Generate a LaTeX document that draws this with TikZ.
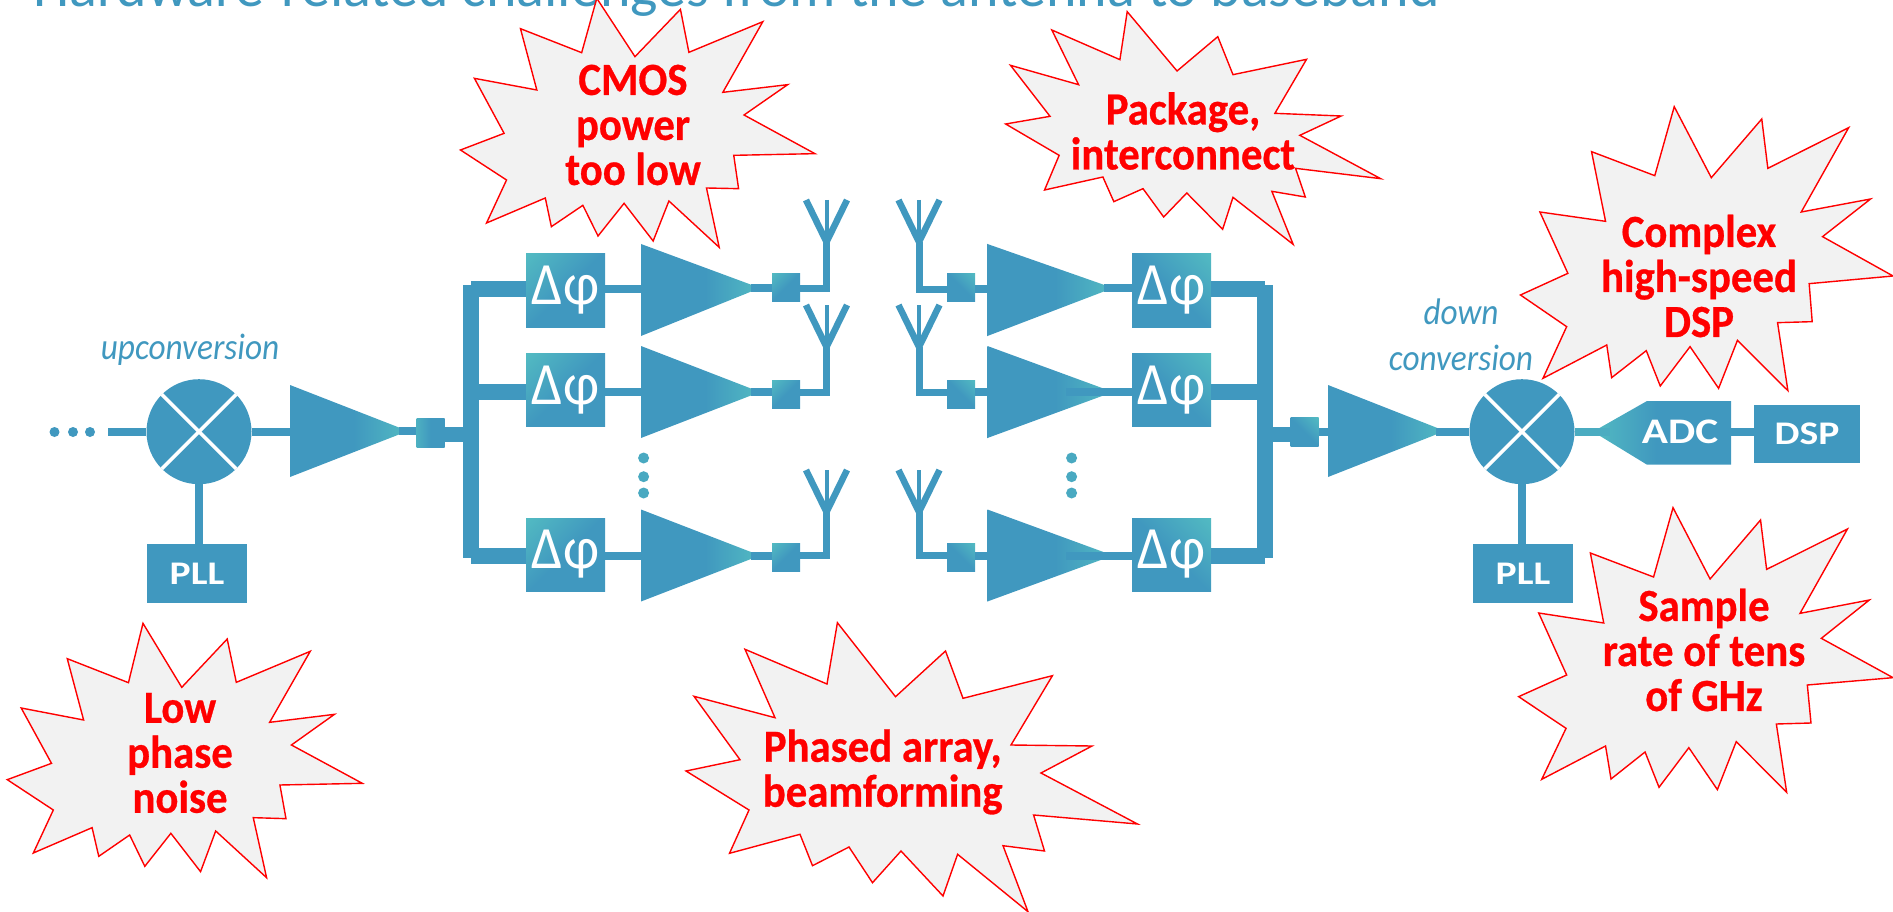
\documentclass[tikz,border=0pt]{standalone}
\usepackage{fontspec}
\setmainfont{Carlito}
\newfontfamily\burstfont[FakeStretch=0.93,FakeBold=0.6]{Carlito}
\newfontfamily\boxfont[FakeStretch=1.2]{Carlito}
\newfontfamily\phasefont[FakeStretch=0.92]{Carlito}
\newfontfamily\hintfont[FakeStretch=0.9]{Carlito}
\definecolor{hwblue}{HTML}{4098BF}
\definecolor{hwteal}{HTML}{52BAC2}
\definecolor{burstgray}{HTML}{F2F2F2}
\pgfdeclarehorizontalshading{cornerfade}{100bp}{color(0bp)=(hwteal); color(15bp)=(hwteal); color(50bp)=(hwblue); color(100bp)=(hwblue)}
\pgfdeclarehorizontalshading{tipfade}{100bp}{color(0bp)=(hwblue); color(52bp)=(hwblue); color(75bp)=(hwteal); color(100bp)=(hwteal)}
\tikzset{
  zoomA/.style={x=0.6059pt,y=-0.33333pt},
  zoomB/.style={shift={(940,0)},x=0.6078pt,y=-0.33333pt},
  zoomC/.style={shift={(0,450)},x=0.6059pt,y=-0.33333pt},
  zoomD/.style={shift={(940,450)},x=0.6078pt,y=-0.33333pt},
  burstshape/.style={draw=red,fill=burstgray,line width=1.4pt,line join=miter,miter limit=20},
  bursttext/.style={text=red,align=center,inner sep=0pt,font=\burstfont\bfseries\fontsize{46}{45}\selectfont},
  wire/.style={draw=hwblue,line width=8pt},
  pllwire/.style={draw=hwblue,line width=8pt},
  buswire/.style={draw=hwblue,line width=16pt},
  stubwire/.style={draw=hwblue,line width=15pt},
  antwire/.style={draw=hwblue,line width=7pt},
  prong/.style={draw=hwblue,line width=6.5pt,line join=miter},
  midprong/.style={draw=hwblue,line width=4pt},
  phasebox/.style={rectangle,minimum width=79pt,minimum height=73pt,inner sep=0pt,shading=cornerfade,text=white,font=\phasefont\fontsize{60}{60}\selectfont},
  smallsq/.style={rectangle,minimum width=28pt,minimum height=28pt,inner sep=0pt,shading=cornerfade},
  solidbox/.style={rectangle,fill=hwblue,inner sep=0pt,text=white,font=\boxfont\bfseries\fontsize{33}{33}\selectfont},
  mixer/.style={circle,fill=hwblue,minimum size=105pt,inner sep=0pt},
  xline/.style={draw=white,line width=3.5pt},
  amp/.style={shading=tipfade,shading angle=0},
  hint/.style={text=hwblue,inner sep=0pt,font=\hintfont\itshape\fontsize{37}{37}\selectfont},
  dotmark/.style={fill=hwblue},
}
\newcommand\antennafork[3]{%
  \draw[prong] (#1-20.5,#2) -- (#1,#3) -- (#1+20.5,#2);
  \draw[midprong] (#1,#2) -- (#1,#3);
}
\begin{document}
\begin{tikzpicture}[x=1pt,y=-1pt]
\clip (0,0) rectangle (1893,912);
\useasboundingbox (0,0) rectangle (1893,912);
\node[anchor=base west,inner sep=0pt,text=hwblue,font=\fontsize{58}{58}\selectfont] (title) at (33,7) {Hardware-related challenges from the antenna to baseband};

% left chain
\foreach \d in {54.5,73,90} \fill[dotmark] (\d,432) circle (5pt);
\coordinate (inL) at (108,431.7);
\node[mixer] (mixL) at (199,431.7) {};
\draw[wire] (inL) -- (mixL.west);
\draw[xline] (mixL.45) -- (mixL.225);
\draw[xline] (mixL.135) -- (mixL.315);
\node[hint] (upc) at (190,350) {upconversion};
\node[solidbox,minimum width=100pt,minimum height=59pt] (pllL) at (197,573.5) {PLL};
\draw[pllwire] (mixL.south) -- (mixL.south |- pllL.north);
\shade[amp] (290,385) -- (408,431) -- (290,477) -- cycle;
\coordinate (amL) at (290,431.7);
\coordinate (amT) at (399,431);
\draw[wire] (mixL.east) -- (amL);
\node[smallsq,minimum height=29pt] (sqL) at (430.5,432.5) {};
\draw[wire] (amT) -- (amT -| sqL.west);
\coordinate (busLtop) at (471,285);
\coordinate (busLbot) at (471,558);
\draw[buswire] (busLtop) -- (busLbot);
\coordinate (stubL) at (479,434);
\draw[stubwire] (stubL -| sqL.east) -- (stubL);

% right chain
\coordinate (busRtop) at (1264.7,285);
\coordinate (busRbot) at (1264.7,558);
\draw[buswire] (busRtop) -- (busRbot);
\node[smallsq,minimum height=29pt,shading angle=-135] (sqR) at (1304.7,432.3) {};
\coordinate (stubR) at (1266,434);
\draw[stubwire] (stubR) -- (stubR -| sqR.west);
\shade[amp] (1328,385) -- (1445,431) -- (1328,477) -- cycle;
\coordinate (arL) at (1328,431.5);
\coordinate (arT) at (1435.6,431.7);
\draw[wire] (arL -| sqR.east) -- (arL);
\node[mixer] (mixR) at (1522,431.7) {};
\draw[wire] (arT) -- (mixR.west);
\draw[xline] (mixR.45) -- (mixR.225);
\draw[xline] (mixR.135) -- (mixR.315);
\node[hint] (downA) at (1461,312) {down};
\node[hint] (downB) at (1461,358) {conversion};
\node[solidbox,minimum width=100pt,minimum height=59pt] (pllR) at (1523,573.5) {PLL};
\draw[pllwire] (mixR.south) -- (mixR.south |- pllR.north);
\coordinate (adcTip) at (1610,431.7);
\shade[amp,shading angle=180] (1593,431.7) -- (1647,401) -- (1731,401) -- (1731,464.7) -- (1647,464.7) -- cycle;
\draw[draw=hwteal!60!hwblue,line width=8pt] (mixR.east) -- (adcTip);
\node[text=white,inner sep=0pt,font=\boxfont\bfseries\fontsize{36}{36}\selectfont] (adc) at (1680,432) {ADC};
\node[solidbox,minimum width=106pt,minimum height=58pt] (dsp) at (1807,434) {DSP};
\coordinate (adcE) at (1731,432);
\draw[wire] (adcE) -- (adcE -| dsp.west);

% rows
\foreach \i/\ry/\by/\sy/\ay/\ty/\ta/\tb in {1/289/290.5/287/290/288/200/242,2/392/390/394/392/392/305/347,3/555.5/554.5/557/555.5/555.5/470/512}{
  % left
  \coordinate (lb\i) at (471,\ry);
  \node[phasebox,shading angle=-45] (pl\i) at (565.5,\by) {Δφ};
  \draw[buswire] (lb\i) -- (lb\i -| pl\i.west);
  \shade[amp] (641,{\ay-46}) -- (760,\ty) -- (641,{\ay+46}) -- cycle;
  \coordinate (al\i) at (641,\ry);
  \coordinate (tl\i) at (751,\ty);
  \draw[wire] (al\i -| pl\i.east) -- (al\i);
  \node[smallsq,shading angle=-45] (sl\i) at (786,\sy) {};
  \coordinate (fl\i) at (826.5,\tb);
  \draw[wire] (tl\i) -- (tl\i -| sl\i.west);
  \draw[antwire,line join=miter] (tl\i -| sl\i.east) -| (fl\i);
  \antennafork{826.5}{\ta}{\tb}
  % right
  \node[phasebox,shading angle=-135] (pr\i) at (1171.5,\by) {Δφ};
  \coordinate (rb\i) at (1264.7,\ry);
  \draw[buswire] (pr\i.east |- rb\i) -- (rb\i);
  \shade[amp] (987.4,{\ay-46}) -- (1113,\ty) -- (987.4,{\ay+46}) -- cycle;
  \coordinate (tr\i) at (1104,\ty);
  \draw[wire] (tr\i) -- (tr\i -| pr\i.west);
  \node[smallsq,shading angle=-135] (sr\i) at (961,\sy) {};
  \coordinate (fr\i) at (919,\tb);
  \coordinate (ar\i) at (987.4,\ry);
  \draw[wire] (ar\i -| sr\i.east) -- (ar\i);
  \draw[antwire,line join=miter] (fr\i) |- (ar\i -| sr\i.west);
  \antennafork{919}{\ta}{\tb}
}
\draw[wire] (1066,392) -- (tr2);
\draw[wire] (1066,555.5) -- (tr3);
\foreach \yy in {458,476.7,493}{
  \fill[hwteal!50!hwblue] (643.6,\yy) circle (5.5pt);
  \fill[hwteal!50!hwblue] (1071.6,\yy) circle (5.5pt);
}

% bursts
\begin{scope}[zoomA]
\draw[burstshape] (985,-5)--(1048,170)--(1123,28)--(1137,157)--(1259,65)--(1193,277)--(1300,254)--(1228,345)--(1345,461)--(1211,466)--(1219,566)--(1166,564)--(1187,742)--(1104,603)--(1078,723)--(1030,610)--(987,708)--(962,616)--(910,680)--(900,594)--(803,669)--(836,540)--(760,450)--(832,400)--(783,235)--(886,270)--(859,86)--(960,158)--cycle;
\end{scope}
\node[bursttext] (cmos) at (633,125) {CMOS\\power\\too low};
\begin{scope}[zoomB]
\draw[burstshape] (308,35)--(390,213)--(457,110)--(482,224)--(603,178)--(551,340)--(660,348)--(592,406)--(725,536)--(585,505)--(601,591)--(546,574)--(581,733)--(482,592)--(465,688)--(406,579)--(368,651)--(334,566)--(286,605)--(268,531)--(172,570)--(196,466)--(108,372)--(181,349)--(116,196)--(228,254)--(184,90)--(296,179)--cycle;
\draw[burstshape] (1208,320)--(1269,533)--(1352,357)--(1362,505)--(1495,383)--(1417,636)--(1531,597)--(1452,710)--(1568,828)--(1430,851)--(1435,965)--(1378,968)--(1395,1172)--(1312,1021)--(1281,1165)--(1234,1040)--(1185,1158)--(1162,1052)--(1105,1133)--(1097,1035)--(992,1135)--(1031,980)--(955,885)--(1033,820)--(987,636)--(1095,664)--(1072,455)--(1176,527)--cycle;
\end{scope}
\node[bursttext] (pack) at (1183,131) {Package,\\interconnect};
\node[bursttext] (complex) at (1699,276) {Complex\\high-speed\\DSP};
\begin{scope}[zoomC]
\draw[burstshape] (236,520)--(300,712)--(375,567)--(390,697)--(512,604)--(445,817)--(552,793)--(481,885)--(598,1000)--(462,1005)--(472,1106)--(418,1103)--(440,1283)--(356,1143)--(331,1265)--(282,1150)--(239,1249)--(214,1155)--(163,1219)--(152,1133)--(55,1209)--(88,1080)--(12,989)--(85,940)--(35,774)--(138,810)--(111,626)--(212,698)--cycle;
\end{scope}
\node[bursttext] (low) at (180,753) {Low\\phase\\noise};
\draw[burstshape] (837.4,622.7)--(895.5,696.7)--(945.5,651)--(963,698.3)--(1052.4,675.7)--(1011,745)--(1092,746)--(1041,773)--(1137.5,824)--(1033.6,815)--(1044.5,851)--(1003,845.7)--(1028,911.7)--(957.6,854.3)--(943,896)--(901,851)--(872.5,882.7)--(849,847)--(812.5,865.7)--(800,834.3)--(729.5,853.3)--(749,810)--(686,771)--(740,759.7)--(694,696.3)--(775,717.7)--(745,649.3)--(827,684)--cycle;
\node[bursttext] (phased) at (882.7,772) {Phased array,\\beamforming};
\begin{scope}[zoomD]
\draw[burstshape] (1206,173)--(1267,387)--(1350,210)--(1360,358)--(1493,237)--(1415,490)--(1529,450)--(1450,565)--(1568,683)--(1427,705)--(1433,819)--(1376,822)--(1393,1027)--(1310,875)--(1279,1019)--(1232,893)--(1183,1012)--(1160,906)--(1104,987)--(1095,888)--(990,988)--(1030,835)--(952,740)--(1031,675)--(985,489)--(1092,519)--(1070,309)--(1174,381)--cycle;
\end{scope}
\node[bursttext] (sample) at (1704,650) {Sample\\rate of tens\\of GHz};
\end{tikzpicture}
\end{document}
